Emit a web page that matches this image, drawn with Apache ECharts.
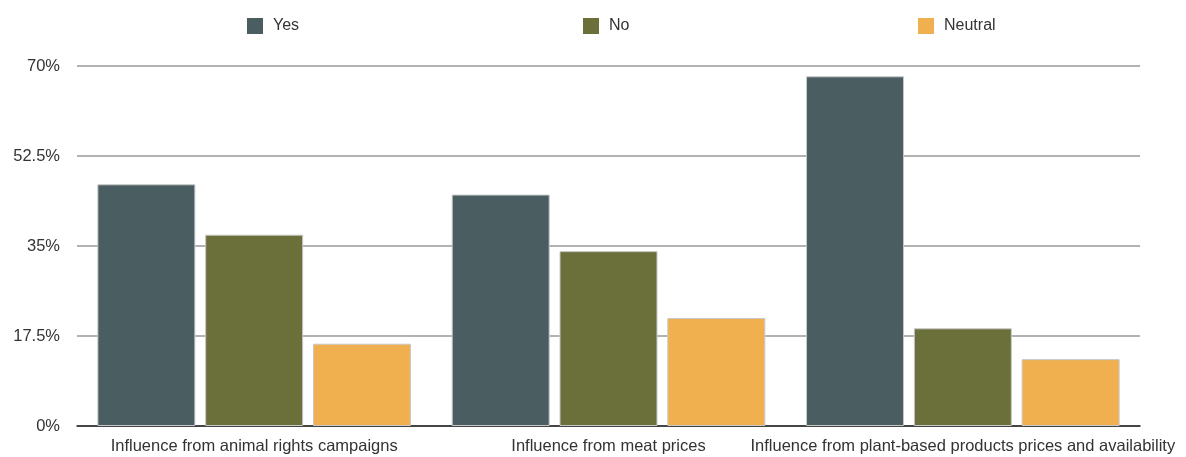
<!DOCTYPE html>
<html><head><meta charset="utf-8">
<script src="https://cdn.jsdelivr.net/npm/echarts@6/dist/echarts.min.js"></script>
<style>html,body{margin:0;padding:0;background:#fff}#c{width:1186px;height:457px}</style>
</head><body><div id="c"></div>
<script>
var categories = ["Influence from animal rights campaigns","Influence from meat prices","Influence from plant-based products prices and availability"];
var yesValues = [47, 45, 68];
var noValues = [37.2, 34, 19];
var neutralValues = [16, 21, 13];
var seriesNames = ["Yes","No","Neutral"];
var legendLefts = [242, 578, 913];
var chart = echarts.init(document.getElementById('c'));
var font = "'Liberation Sans', Arial, sans-serif";
function mk(name, data, color){
  return {name:name,type:'bar',data:data,barWidth:98,barGap:'10%',
    itemStyle:{color:color,borderColor:'#c8c8c8',borderWidth:1}};
}
chart.setOption({
  animation:false,
  textStyle:{fontFamily:font},
  legend:seriesNames.map(function(n,i){return {top:13,left:legendLefts[i],itemWidth:16,itemHeight:16,icon:'rect',
    itemStyle:{borderWidth:0},
    textStyle:{fontFamily:font,fontSize:16,color:'#333',padding:[0,0,0,5]},data:[n]};}),
  grid:{left:77,right:46,top:66,bottom:31,containLabel:false},
  xAxis:{type:'category',data:categories,
    axisLine:{lineStyle:{color:'#222',width:1.5}},axisTick:{show:false},
    axisLabel:{fontFamily:font,fontSize:16.5,color:'#333',margin:12,interval:0}},
  yAxis:{type:'value',min:0,max:70,interval:17.5,
    axisLine:{show:false},axisTick:{show:false},
    splitLine:{lineStyle:{color:'#999',width:1.5}},
    axisLabel:{fontFamily:font,fontSize:16.5,color:'#333',margin:17,formatter:function(v){return v+'%';}}},
  series:[mk(seriesNames[0],yesValues,'#4a5e62'),mk(seriesNames[1],noValues,'#6b703a'),mk(seriesNames[2],neutralValues,'#f0b050')]
});
</script></body></html>
